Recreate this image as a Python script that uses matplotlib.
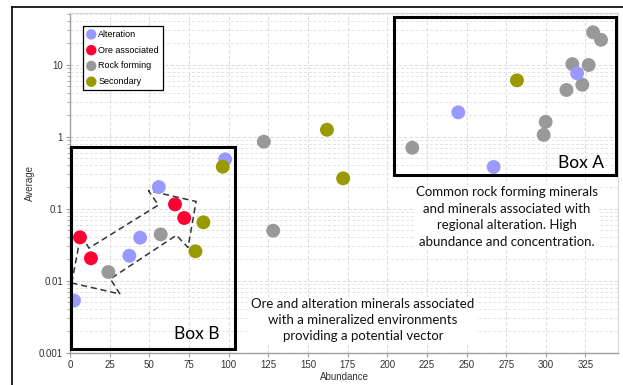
import matplotlib
matplotlib.use("Agg")
import matplotlib.pyplot as plt
from matplotlib.lines import Line2D
from matplotlib.patches import Rectangle, Polygon
from matplotlib.ticker import LogLocator, FixedLocator, NullFormatter, FuncFormatter

# Mineral groups: abundance (x) vs average concentration (y)
alteration_x = [2.5, 37.4, 44.2, 56.0, 97.8, 244.8, 267.1, 319.7]
alteration_y = [0.0053, 0.0222, 0.0396, 0.200, 0.485, 2.18, 0.38, 7.6]

ore_x = [6.3, 13.2, 66.2, 72.0]
ore_y = [0.040, 0.0205, 0.115, 0.0743]

rock_x = [24.2, 57.2, 122.2, 128.1, 215.8, 298.6, 299.9, 313.0, 316.7, 323.0, 327.0, 329.8, 334.8]
rock_y = [0.0132, 0.044, 0.853, 0.0495, 0.703, 1.06, 1.61, 4.46, 10.2, 5.27, 9.9, 28.2, 22.2]

secondary_x = [79.1, 84.1, 96.3, 162.0, 172.2, 281.8]
secondary_y = [0.0256, 0.0647, 0.383, 1.25, 0.264, 6.07]

x_ticks = [0, 25, 50, 75, 100, 125, 150, 175, 200, 225, 250, 275, 300, 325]
y_ticks = [0.001, 0.01, 0.1, 1, 10]
y_tick_labels = ["0.001", "0.01", "0.1", "1", "10"]

# Outline of the dashed "vector" arrow through box B
arrow_outline = [(1.1, 0.0093), (6.75, 0.0432), (12.0, 0.0284), (55.7, 0.1125),
                 (49.4, 0.179), (79.5, 0.126), (74.4, 0.0289), (67.1, 0.0428),
                 (25.4, 0.0106), (31.5, 0.00653)]

C_ALT = "#9999ff"
C_ORE = "#ff0033"
C_ROCK = "#999999"
C_SEC = "#999900"

W, H = 623, 385
fig = plt.figure(figsize=(W / 100, H / 100), dpi=100)
ax = fig.add_axes([70 / W, 1 - 352.7 / H, (618 - 70) / W, (352.7 - 13.3) / H])


def px(x, y):
    """Figure-fraction position of a point given in pixels from the top-left."""
    return x / W, 1 - y / H


ax.set_yscale("log")
ax.set_xlim(0, 345.5)
ax.set_ylim(0.001, 51.8)

# grids
ax.set_axisbelow(True)
ax.xaxis.set_major_locator(FixedLocator(x_ticks))
ax.yaxis.set_major_locator(FixedLocator(y_ticks))
ax.yaxis.set_major_formatter(FuncFormatter(lambda v, p: dict(zip(y_ticks, y_tick_labels)).get(v, "")))
ax.yaxis.set_minor_locator(LogLocator(base=10, subs=range(2, 10), numticks=20))
ax.yaxis.set_minor_formatter(NullFormatter())
ax.grid(True, which="major", color="#dddddd", linestyle=(0, (3, 2)), linewidth=0.8)
ax.grid(True, which="minor", axis="y", color="#e4e4e4", linestyle=(0, (3, 2)), linewidth=0.7)

for side in ["top", "right"]:
    ax.spines[side].set_color("#d8d8d8")
    ax.spines[side].set_linewidth(0.8)
for side in ["left", "bottom"]:
    ax.spines[side].set_color("#a0a0a0")
    ax.spines[side].set_linewidth(1.0)

ax.tick_params(axis="both", which="major", length=3, width=0.8, color="#a0a0a0",
               labelsize=7, labelcolor="#333333", pad=2)
ax.tick_params(axis="y", which="minor", length=2, width=0.6, color="#a0a0a0")
for lbl in ax.get_xticklabels() + ax.get_yticklabels():
    lbl.set_family("Liberation Sans")

ax.set_xlabel("Abundance", fontsize=7, family="Liberation Sans", color="#333333")
ax.set_ylabel("Average", fontsize=7, family="Liberation Sans", color="#333333")
ax.xaxis.set_label_coords(0.5, -(377 - 352.7) / (352.7 - 13.3))
ax.yaxis.set_label_coords(-(70 - 30) / (618 - 70), 0.5)
ax.xaxis.label.set_va("center")
ax.yaxis.label.set_va("center")

# scatter series
ms = 100
h_rock = ax.scatter(rock_x, rock_y, s=ms, color=C_ROCK, edgecolors="none", zorder=3)
h_alt = ax.scatter(alteration_x, alteration_y, s=ms, color=C_ALT, edgecolors="none", zorder=3)
h_ore = ax.scatter(ore_x, ore_y, s=ms, color=C_ORE, edgecolors="none", zorder=3)
h_sec = ax.scatter(secondary_x, secondary_y, s=ms, color=C_SEC, edgecolors="none", zorder=3)

leg = ax.legend([h_alt, h_ore, h_rock, h_sec],
                ["Alteration", "Ore associated", "Rock forming", "Secondary"],
                loc="upper left", bbox_to_anchor=(12.7 / 548, 1 - 12.4 / 339.4),
                prop={"family": "Liberation Sans", "size": 6.5}, markerscale=0.75,
                fancybox=False, framealpha=1, edgecolor="black", borderpad=0.45,
                labelspacing=0.75, handletextpad=0.25, handlelength=1.0, borderaxespad=0)
leg.get_frame().set_linewidth(0.9)

# highlight boxes
ax.add_patch(Rectangle((204.4, 0.296), 344.5 - 204.4, 45.5 - 0.296, fill=False,
                       edgecolor="black", linewidth=2.2, zorder=4))
ax.add_patch(Rectangle((0.4, 0.00111), 104 - 0.4, 0.726 - 0.00111, fill=False,
                       edgecolor="black", linewidth=2.2, zorder=4, clip_on=False))
ax.add_patch(Polygon(arrow_outline, closed=True, fill=False, edgecolor="#333333",
                     linestyle=(0, (4, 2.5)), linewidth=1.1, zorder=2))

fig.text(*px(581, 163), "Box A", fontsize=12.5, family="Lato", ha="center", va="center")
fig.text(*px(197, 334), "Box B", fontsize=12.5, family="Lato", ha="center", va="center")

fig.text(*px(507, 217), "Common rock forming minerals\nand minerals associated with\nregional alteration. High\nabundance and concentration.",
         fontsize=9.5, family="Lato", ha="center", va="center", linespacing=1.45, color="#111111",
         bbox=dict(facecolor="white", edgecolor="none", pad=1))
fig.text(*px(363, 320), "Ore and alteration minerals associated\nwith a mineralized environments\nproviding a potential vector",
         fontsize=9.5, family="Lato", ha="center", va="center", linespacing=1.4, color="#111111",
         bbox=dict(facecolor="white", edgecolor="none", pad=1))

# frame lines along the top and left of the figure
fig.add_artist(Line2D([12 / W, 12 / W], [0, 1 - 7 / H], color="black", linewidth=1.2))
fig.add_artist(Line2D([12 / W, 1], [1 - 7 / H, 1 - 7 / H], color="black", linewidth=1.2))

fig.savefig("out.png", dpi=100)
